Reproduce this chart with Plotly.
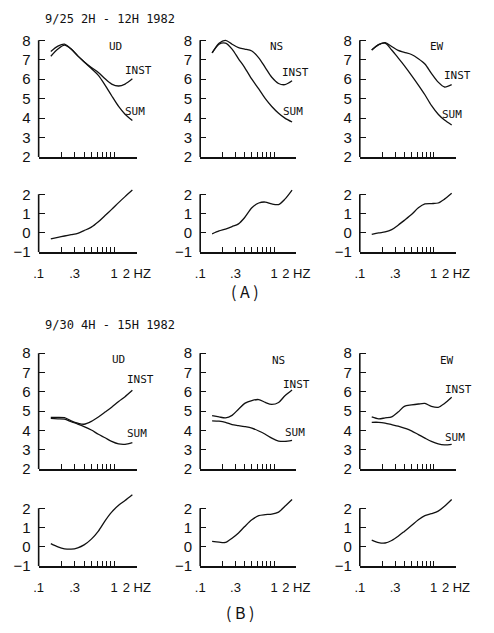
import math
import plotly.graph_objects as go

# Frequency grid (Hz) shared by all spectra
FREQ = [0.145, 0.18, 0.22, 0.27, 0.33, 0.40, 0.50, 0.62, 0.76, 0.93, 1.15, 1.4, 1.75]

# (A) 9/25 2H - 12H 1982
A_UD_INST = [7.43, 7.70, 7.80, 7.55, 7.20, 6.90, 6.60, 6.35, 6.02, 5.75, 5.65, 5.75, 6.02]
A_UD_SUM = [7.18, 7.55, 7.75, 7.55, 7.20, 6.90, 6.55, 6.20, 5.70, 5.15, 4.60, 4.20, 3.88]
A_UD_LOW = [-0.31, -0.23, -0.16, -0.09, -0.02, 0.12, 0.30, 0.58, 0.90, 1.22, 1.57, 1.88, 2.22]

A_NS_INST = [7.35, 7.85, 8.00, 7.80, 7.62, 7.55, 7.45, 7.10, 6.60, 6.10, 5.78, 5.72, 5.92]
A_NS_SUM = [7.35, 7.80, 7.85, 7.55, 7.05, 6.60, 6.00, 5.50, 5.00, 4.60, 4.25, 4.00, 3.80]
A_NS_LOW = [-0.05, 0.10, 0.20, 0.33, 0.47, 0.80, 1.30, 1.55, 1.60, 1.50, 1.47, 1.75, 2.22]

A_EW_INST = [7.50, 7.78, 7.88, 7.68, 7.48, 7.38, 7.27, 7.05, 6.78, 6.30, 5.85, 5.60, 5.72]
A_EW_SUM = [7.50, 7.78, 7.85, 7.50, 7.10, 6.70, 6.20, 5.70, 5.20, 4.65, 4.20, 3.90, 3.65]
A_EW_LOW = [-0.08, 0.00, 0.05, 0.17, 0.40, 0.65, 0.95, 1.30, 1.50, 1.52, 1.55, 1.75, 2.05]

# (B) 9/30 4H - 15H 1982
B_UD_INST = [4.67, 4.68, 4.66, 4.50, 4.38, 4.32, 4.47, 4.70, 4.95, 5.20, 5.50, 5.75, 6.08]
B_UD_SUM = [4.62, 4.60, 4.58, 4.45, 4.33, 4.20, 4.02, 3.80, 3.62, 3.43, 3.30, 3.28, 3.37]
B_UD_LOW = [0.17, 0.00, -0.10, -0.12, -0.05, 0.10, 0.40, 0.82, 1.35, 1.80, 2.15, 2.40, 2.70]

B_NS_INST = [4.77, 4.70, 4.65, 4.78, 5.10, 5.40, 5.55, 5.60, 5.45, 5.35, 5.45, 5.80, 6.10]
B_NS_SUM = [4.50, 4.48, 4.42, 4.30, 4.25, 4.20, 4.12, 3.97, 3.80, 3.60, 3.45, 3.43, 3.48]
B_NS_LOW = [0.28, 0.24, 0.23, 0.45, 0.72, 1.05, 1.40, 1.62, 1.67, 1.70, 1.80, 2.10, 2.45]

B_EW_INST = [4.70, 4.60, 4.65, 4.70, 4.95, 5.25, 5.32, 5.37, 5.40, 5.25, 5.20, 5.40, 5.72]
B_EW_SUM = [4.42, 4.42, 4.38, 4.30, 4.22, 4.12, 3.98, 3.78, 3.60, 3.43, 3.30, 3.25, 3.28]
B_EW_LOW = [0.35, 0.22, 0.20, 0.33, 0.55, 0.80, 1.10, 1.40, 1.62, 1.72, 1.85, 2.10, 2.45]

COMPONENTS = ["UD", "NS", "EW"]
UPPER = {
    "A": [(A_UD_INST, A_UD_SUM), (A_NS_INST, A_NS_SUM), (A_EW_INST, A_EW_SUM)],
    "B": [(B_UD_INST, B_UD_SUM), (B_NS_INST, B_NS_SUM), (B_EW_INST, B_EW_SUM)],
}
LOWER = {
    "A": [A_UD_LOW, A_NS_LOW, A_EW_LOW],
    "B": [B_UD_LOW, B_NS_LOW, B_EW_LOW],
}
TITLES = {"A": "9/25 2H - 12H 1982", "B": "9/30 4H - 15H 1982"}

X_TICKS = [0.1, 0.2, 0.3, 0.4, 0.5, 0.6, 0.7, 0.8, 0.9, 1, 2]
X_TEXT = [".1", "", ".3", "", "", "", "", "", "", "1", "2 HZ"]

W, H = 494, 633
MONO = "DejaVu Sans Mono"
SANS = "Liberation Sans"


def px_x(p):
    return p / W


def px_y(p):
    return 1 - p / H


# Pixel geometry of the panels
COLS = [(35, 137), (203, 303), (369, 469)]
ROWS = {
    ("A", "up"): (37, 156),
    ("A", "low"): (194, 253),
    ("B", "up"): (356, 474),
    ("B", "low"): (514, 573),
}
NOMINAL = {"up": (2, 8), "low": (-1, 2)}
EXTRA = {"up": 0.25, "low": 0.85}
Y_TICKS = {"up": [2, 3, 4, 5, 6, 7, 8], "low": [-1, 0, 1, 2]}
Y_TEXT = {"up": ["2", "3", "4", "5", "6", "7", "8"], "low": ["\u22121", "0", "1", "2"]}

fig = go.Figure()
layout = {}
shapes = []
annotations = []
line = dict(color="#111111", width=1.3, shape="spline", smoothing=0.8)

n = 0
for block in ["A", "B"]:
    for part in ["up", "low"]:
        top, bot = ROWS[(block, part)]
        lo, hi = NOMINAL[part]
        ppu = (bot - top) / (hi - lo)
        dom_top = top - EXTRA[part] * ppu
        for c, (xl, xr) in enumerate(COLS):
            n += 1
            xa = "x" if n == 1 else f"x{n}"
            ya = "y" if n == 1 else f"y{n}"
            if part == "up":
                inst, summ = UPPER[block][c]
                fig.add_trace(go.Scatter(x=FREQ, y=inst, mode="lines", line=line,
                                         xaxis=xa, yaxis=ya, showlegend=False))
                fig.add_trace(go.Scatter(x=FREQ, y=summ, mode="lines", line=line,
                                         xaxis=xa, yaxis=ya, showlegend=False))
            else:
                fig.add_trace(go.Scatter(x=FREQ, y=LOWER[block][c], mode="lines", line=line,
                                         xaxis=xa, yaxis=ya, showlegend=False))
            layout[f"xaxis{n}"] = dict(
                type="log", range=[-1, math.log10(2)],
                domain=[px_x(xl), px_x(xr)], anchor=ya,
                showline=True, linecolor="#111111", linewidth=1.6,
                ticks="inside", ticklen=5, tickwidth=1.4, tickcolor="#111111",
                tickmode="array", tickvals=X_TICKS, ticktext=X_TEXT, tickangle=0,
                showticklabels=(part == "low"), ticklabelstandoff=8,
                tickfont=dict(family=SANS, size=13, color="#111111"),
                showgrid=False, zeroline=False,
            )
            layout[f"yaxis{n}"] = dict(
                range=[lo, hi + EXTRA[part]],
                domain=[px_y(bot), px_y(dom_top)], anchor=xa,
                showline=False,
                ticks="inside", ticklen=6, tickwidth=1.4, tickcolor="#111111",
                tickmode="array", tickvals=Y_TICKS[part], ticktext=Y_TEXT[part],
                ticklabelstandoff=7,
                tickfont=dict(family=SANS, size=15, color="#111111"),
                showgrid=False, zeroline=False,
            )
            # vertical axis line spanning the labelled range only
            shapes.append(dict(type="line", xref=f"{xa} domain", yref=ya,
                               x0=0, x1=0, y0=lo, y1=hi,
                               line=dict(color="#111111", width=1.6)))

# Component and curve labels (pixel positions)
LABELS = {
    "A": [((115, 43), (139, 68), (135, 110)),
          ((282, 43), (302, 70), (300, 110)),
          ((449, 43), (471, 73), (465, 113))],
    "B": [((118, 362), (141, 383), (137, 438)),
          ((284, 363), (303, 388), (302, 437)),
          ((460, 363), (472, 393), (468, 442))],
}
for block in ["A", "B"]:
    for c, (comp_xy, inst_xy, sum_xy) in enumerate(LABELS[block]):
        for text, (x, y) in [(COMPONENTS[c], comp_xy), ("INST", inst_xy), ("SUM", sum_xy)]:
            annotations.append(dict(text=text, x=px_x(x), y=px_y(y), xref="paper", yref="paper",
                                    showarrow=False, xanchor="center", yanchor="middle",
                                    font=dict(family=MONO, size=11, color="#111111")))

for block, ty in [("A", 15), ("B", 327)]:
    annotations.append(dict(text=TITLES[block], x=px_x(40), y=px_y(ty), xref="paper", yref="paper",
                            showarrow=False, xanchor="left", yanchor="middle",
                            font=dict(family=MONO, size=12, color="#111111")))

for text, (x, y) in [("( A )", (250, 293)), ("( B )", (245, 620))]:
    annotations.append(dict(text=text, x=px_x(x), y=px_y(y), xref="paper", yref="paper",
                            showarrow=False, xanchor="center", yanchor="middle",
                            font=dict(family="Noto Sans CJK JP", size=16, color="#111111")))

fig.update_layout(
    width=W, height=H,
    margin=dict(l=0, r=0, t=0, b=0),
    paper_bgcolor="white", plot_bgcolor="white",
    shapes=shapes, annotations=annotations,
    **layout,
)

fig.write_html("out.html")
